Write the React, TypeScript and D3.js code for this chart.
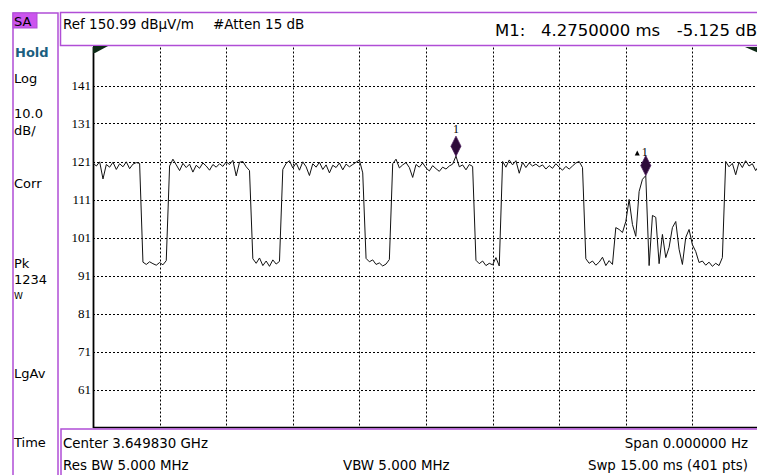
import React from 'react';
import * as d3 from 'd3';

// ---- Instrument settings ----
const SWEEP_MS = 15;
const SWEEP_POINTS = 401;
const STEP = 2; // trace read every second sweep point
const REF_LEVEL = 150.99;
const DB_PER_DIV = 10;
const DIVISIONS = 10;

// ---- Trace (dBµV/m), one value every 2 sweep points (0.075 ms) ----
const traceDb = [
  120.6, 119.8, 120.9, 116.4, 120.2, 119.5, 120.8, 118.9, 120.4, 119.6, 120.9, 119.1, 120.3, 120.7, 120.5,
  94.5, 93.9, 94.6, 94.1, 93.7, 94.4, 93.8, 94.9,
  119.8, 121.6, 120.1, 118.6, 120.5, 119.4, 120.3, 118.2, 120.0, 119.2, 120.6, 119.8, 118.7, 120.2, 119.5, 120.4, 119.7, 120.9, 120.2, 121.3, 117.2, 120.8, 121.0, 119.6, 118.6,
  95.4, 94.2, 95.6, 93.6, 94.8, 93.4, 95.1, 94.0, 94.7,
  118.9, 120.5, 121.2, 119.3, 120.6, 118.7, 120.9, 119.6, 117.3, 120.4, 119.5, 120.8, 118.9, 120.1, 118.0, 120.0, 119.4, 120.6, 118.8, 120.3, 119.6, 120.2, 120.8, 121.4, 118.0,
  95.5, 94.6, 95.1, 93.9, 94.3, 93.5, 94.0, 95.2,
  120.4, 121.6, 119.3, 120.1, 120.7, 119.4, 116.8, 120.2, 119.5, 120.6, 119.3, 118.5, 119.9, 119.1, 118.4, 119.5, 119.0, 119.8, 120.3, 122.4, 119.6, 120.1, 118.8, 120.2, 119.7,
  95.0, 94.1, 94.8, 93.6, 94.2, 93.8, 95.7, 93.5,
  121.0, 119.5, 121.4, 120.1, 121.2, 117.9, 120.8, 119.4, 120.6, 119.8, 120.3, 119.6, 120.1, 119.0, 119.9, 119.2, 120.4, 119.5, 118.7, 119.7, 119.0, 119.8, 120.6, 121.0, 119.4,
  95.4, 94.2, 94.8, 93.7, 94.5, 95.8, 93.6, 94.9, 93.9,
  103.6, 103.1, 102.3, 105.2, 111.0, 104.4, 101.3, 113.1, 116.3, 117.275, 93.6, 106.8, 106.3, 94.1, 101.8, 95.7, 98.4, 103.6, 105.2, 97.9, 93.9, 101.0, 103.1, 99.1, 97.3, 94.4,
  94.8, 93.7, 94.5, 93.4, 94.2, 93.6, 95.7,
  121.0, 119.6, 120.5, 117.5, 120.8, 119.4, 121.2, 119.8, 120.4, 118.6, 119.9,
];

// ---- Axis labels ----
const yTickValues = [140.99, 130.99, 120.99, 110.99, 100.99, 90.99, 80.99, 70.99, 60.99];
const yTickLabels = ['141', '131', '121', '111', '101', '91', '81', '71', '61'];
const xGridMs = [1.5, 3, 4.5, 6, 7.5, 9, 10.5, 12, 13.5];

// ---- Markers (trace index) ----
const marker1Index = 109;
const deltaIndex = 166;

// ---- Annotation texts ----
const headerRef = 'Ref 150.99 dBµV/m';
const headerAtten = '#Atten 15 dB';
const markerReadout = ['M1:', '4.2750000 ms', '-5.125 dB'];
const footer = {
  center: 'Center 3.649830 GHz',
  span: 'Span 0.000000  Hz',
  rbw: 'Res BW 5.000 MHz',
  vbw: 'VBW 5.000 MHz',
  swp: 'Swp 15.00 ms (401 pts)',
};

const W = 757;
const H = 475;
const PURPLE = '#b04ed6';
const SANS = 'DejaVu Sans, Verdana, sans-serif';
const SERIF = 'Liberation Serif, Times New Roman, serif';

export default function App() {
  const plotLeft = 93;
  const plotRight = 759;
  const plotTop = 47.5;
  const plotBottom = 427.5;

  const x = d3.scaleLinear().domain([0, SWEEP_MS]).range([plotLeft, plotRight]);
  const y = d3
    .scaleLinear()
    .domain([REF_LEVEL - DB_PER_DIV * DIVISIONS, REF_LEVEL])
    .range([plotBottom, plotTop]);

  const tOf = (i: number) => (i * STEP * SWEEP_MS) / (SWEEP_POINTS - 1);
  const line = d3
    .line<number>()
    .x((_, i) => x(tOf(i)))
    .y((d) => y(d));

  const m1x = x(tOf(marker1Index));
  const m1y = y(traceDb[marker1Index]);
  const dx = x(tOf(deltaIndex));
  const dy = y(traceDb[deltaIndex]);

  const diamond = (cx: number, tipY: number) =>
    `M${cx},${tipY} L${cx - 5},${tipY - 10} L${cx},${tipY - 20} L${cx + 5},${tipY - 10} Z`;

  return (
    <svg
      width={W}
      height={H}
      style={{ position: 'absolute', left: 0, top: 0, background: '#fff' }}
      fontFamily={SANS}
    >
      <rect x={0} y={0} width={W} height={H} fill="#fff" />
      <defs>
        <clipPath id="plotClip">
          <rect x={plotLeft} y={plotTop - 30} width={plotRight - plotLeft} height={plotBottom - plotTop + 30} />
        </clipPath>
      </defs>

      {/* left panel */}
      <rect x={13} y={13} width={45} height={480} fill="none" stroke={PURPLE} strokeWidth={1.5} />
      <rect x={13} y={13} width={24} height={15} fill="#cc55ee" stroke={PURPLE} strokeWidth={1} />
      <text x={14} y={26} fontSize={13} fill="#000">SA</text>
      <text x={15} y={57} fontSize={13} fontWeight="bold" fill="#1b5f80">Hold</text>
      <text x={14} y={83} fontSize={13}>Log</text>
      <text x={14} y={118} fontSize={13}>10.0</text>
      <text x={14} y={135} fontSize={13}>dB/</text>
      <text x={14} y={188} fontSize={13}>Corr</text>
      <text x={14} y={268} fontSize={13}>Pk</text>
      <text x={14} y={284} fontSize={13}>1234</text>
      <text x={14} y={299} fontSize={9}>W</text>
      <text x={14} y={378} fontSize={13}>LgAv</text>
      <text x={14} y={447} fontSize={13}>Time</text>

      {/* header box */}
      <rect x={60.5} y={12.5} width={720} height={33} fill="none" stroke={PURPLE} strokeWidth={1.5} />
      <text x={63} y={29} fontSize={13.5}>{headerRef}</text>
      <text x={213} y={29} fontSize={13.5}>{headerAtten}</text>
      <text x={495} y={36} fontSize={16.5}>{markerReadout[0]}</text>
      <text x={541} y={36} fontSize={16.5}>{markerReadout[1]}</text>
      <text x={757} y={36} fontSize={16.5} textAnchor="end">{markerReadout[2]}</text>

      {/* grid */}
      <g stroke="#000" strokeWidth={1} strokeDasharray="2,2">
        {xGridMs.map((t) => (
          <line key={'v' + t} x1={Math.round(x(t)) + 0.5} x2={Math.round(x(t)) + 0.5} y1={plotTop} y2={plotBottom} />
        ))}
        {yTickValues.map((v) => (
          <line key={'h' + v} x1={plotLeft} x2={plotRight} y1={Math.round(y(v)) + 0.5} y2={Math.round(y(v)) + 0.5} />
        ))}
      </g>
      {yTickValues.map((v, i) => (
        <text key={'t' + v} x={91} y={y(v) + 4} fontSize={13} fontFamily={SERIF} textAnchor="end">
          {yTickLabels[i]}
        </text>
      ))}

      {/* frame */}
      <line x1={plotLeft + 0.5} x2={plotLeft + 0.5} y1={plotTop - 0.5} y2={plotBottom + 0.5} stroke="#000" strokeWidth={1.8} />
      <line x1={plotLeft} x2={plotRight} y1={plotBottom} y2={plotBottom} stroke="#000" strokeWidth={1.6} />
      <path d={`M93,46 L108,46 L95,53 L93,53 Z`} fill="#0d2a16" />
      <path d={`M745,47 L759,47 L759,53 Z`} fill="#0d2a16" />

      {/* trace */}
      <path d={line(traceDb) || ''} fill="none" stroke="#111" strokeWidth={1} clipPath="url(#plotClip)" />

      {/* markers */}
      <path d={diamond(m1x, m1y)} fill="#2e0b3a" stroke="#4a1a5a" strokeWidth={0.8} />
      <text x={m1x} y={m1y - 23} fontSize={12} fontFamily={SERIF} textAnchor="middle">1</text>
      <path d={diamond(dx, dy)} fill="#2e0b3a" stroke="#4a1a5a" strokeWidth={0.8} />
      <path d={`M${dx - 11},${dy - 20} L${dx - 8.5},${dy - 25} L${dx - 6},${dy - 20} Z`} fill="#000" />
      <text x={dx - 4} y={dy - 20} fontSize={12} fontFamily={SERIF}>1</text>

      {/* footer box */}
      <rect x={61} y={429} width={720} height={60} fill="none" stroke={PURPLE} strokeWidth={1.5} />
      <text x={63} y={448} fontSize={13.4}>{footer.center}</text>
      <text x={748} y={448} fontSize={13.4} textAnchor="end">{footer.span}</text>
      <text x={63} y={470} fontSize={13.4}>{footer.rbw}</text>
      <text x={343} y={470} fontSize={13.4}>{footer.vbw}</text>
      <text x={748} y={470} fontSize={13.4} textAnchor="end">{footer.swp}</text>
    </svg>
  );
}
